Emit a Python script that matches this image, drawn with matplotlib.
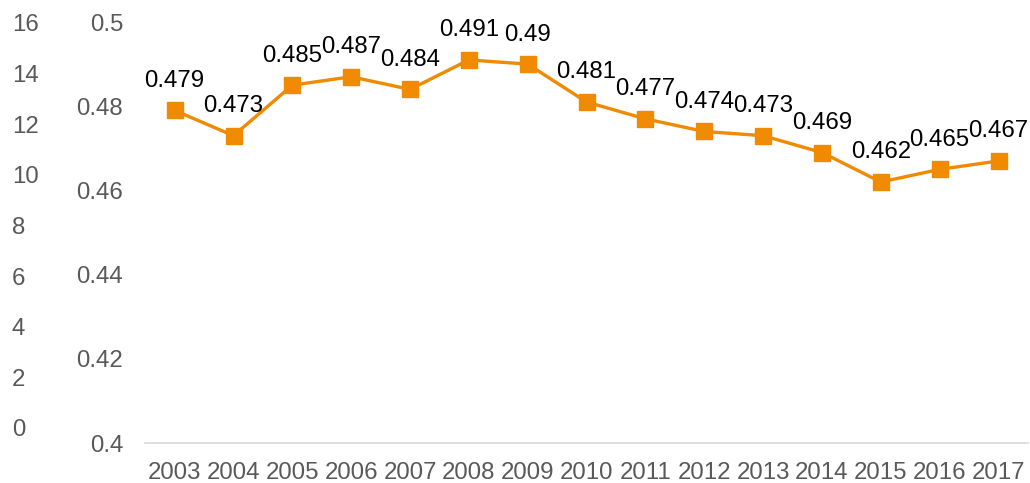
import matplotlib.pyplot as plt

plt.rcParams['font.family'] = ['Liberation Sans', 'DejaVu Sans']

years = ['2003', '2004', '2005', '2006', '2007', '2008', '2009', '2010',
         '2011', '2012', '2013', '2014', '2015', '2016', '2017']
values = [0.479, 0.473, 0.485, 0.487, 0.484, 0.491, 0.49, 0.481,
          0.477, 0.474, 0.473, 0.469, 0.462, 0.465, 0.467]
inner_ticks = [0.4, 0.42, 0.44, 0.46, 0.48, 0.5]
outer_ticks = [0, 2, 4, 6, 8, 10, 12, 14, 16]

orange = '#F08A00'
grey_text = '#595959'
fs = 17.3

fig = plt.figure(figsize=(10.3, 4.83), dpi=100)

# phantom outer axis (0..16), labels only
ax2 = fig.add_axes([0.141, 0.1139, 0.857, 0.8385])
ax2.set_ylim(0, 16)
ax2.set_yticks(outer_ticks)
ax2.set_yticklabels([str(t) for t in outer_ticks])
ax2.tick_params(axis='y', length=0, pad=96, labelsize=fs, labelcolor=grey_text)
for lab in ax2.get_yticklabels():
    lab.set_horizontalalignment('left')
ax2.set_xticks([])
for s in ax2.spines.values():
    s.set_visible(False)
ax2.patch.set_visible(False)

# main axis
ax = fig.add_axes([0.141, 0.0828, 0.857, 0.8716])
x = list(range(len(years)))
ax.plot(x, values, color=orange, linewidth=2.4, marker='s', markersize=11.5,
        markerfacecolor=orange, markeredgecolor=orange, zorder=3)
for xi, v in zip(x, values):
    ax.annotate(f'{v:g}', (xi, v), xytext=(0, 17), textcoords='offset points',
                ha='center', va='baseline', fontsize=fs, color='black')

ax.set_xlim(-0.5, len(years) - 0.5)
ax.set_ylim(0.4, 0.5)
ax.set_xticks(x)
ax.set_xticklabels(years)
ax.set_yticks(inner_ticks)
ax.set_yticklabels([f'{t:g}' for t in inner_ticks])
ax.tick_params(axis='both', length=0, labelsize=fs, labelcolor=grey_text)
ax.tick_params(axis='y', pad=16)
ax.tick_params(axis='x', pad=14)
for side in ['top', 'right', 'left']:
    ax.spines[side].set_visible(False)
ax.spines['bottom'].set_color('#D9D9D9')
ax.spines['bottom'].set_linewidth(1.2)
ax.patch.set_visible(False)

fig.savefig('out.png', dpi=100)
